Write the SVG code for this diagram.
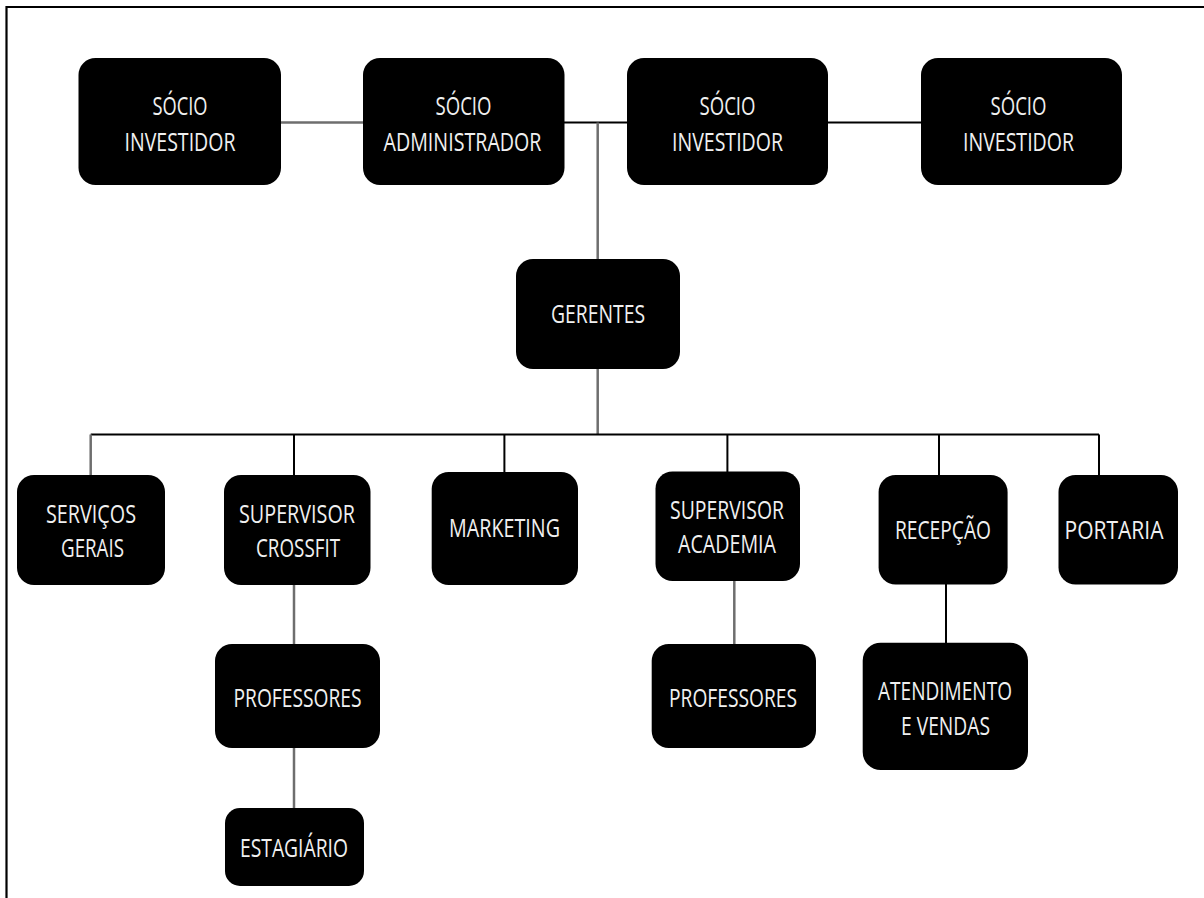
<svg xmlns="http://www.w3.org/2000/svg" width="1204" height="898" viewBox="0 0 1204 898">
  <style>
    .box { fill: #000; }
    .lbl { fill: #f0f0f0; font-family: "Open Sans", "Liberation Sans", sans-serif; font-size: 25px; text-anchor: middle; }
    .ln { fill: none; stroke: #000; stroke-width: 2; }
    .lg { fill: none; stroke: #6e6e6e; stroke-width: 2.5; }
    .frame { fill: none; stroke: #000; stroke-width: 2.2; }
  </style>
  <rect x="0" y="0" width="1204" height="898" fill="#fff"/>

  <!-- outer frame -->
  <path class="frame" d="M6.5,898 V7 H1204"/>

  <!-- connectors -->
  <g id="connectors">
    <line class="lg" x1="279" y1="122.5" x2="365" y2="122.5"/>
    <line class="ln" x1="564" y1="122.5" x2="628" y2="122.5"/>
    <line class="ln" x1="827" y1="122.5" x2="922" y2="122.5"/>
    <line class="lg" x1="597.7" y1="122.5" x2="597.7" y2="260"/>
    <line class="lg" x1="597.7" y1="368" x2="597.7" y2="434.5"/>
    <line class="ln" x1="90.7" y1="434.5" x2="1099" y2="434.5"/>
    <line class="lg" x1="90.7" y1="434.5" x2="90.7" y2="476"/>
    <line class="ln" x1="294" y1="434.5" x2="294" y2="476"/>
    <line class="ln" x1="504.4" y1="434.5" x2="504.4" y2="473"/>
    <line class="ln" x1="727.4" y1="434.5" x2="727.4" y2="472"/>
    <line class="ln" x1="939" y1="434.5" x2="939" y2="476"/>
    <line class="ln" x1="1099" y1="434.5" x2="1099" y2="476"/>
    <line class="lg" x1="294" y1="584" x2="294" y2="645"/>
    <line class="lg" x1="294" y1="747" x2="294" y2="809"/>
    <line class="lg" x1="734.3" y1="580" x2="734.3" y2="645"/>
    <line class="ln" x1="946" y1="583" x2="946" y2="644"/>
  </g>

  <!-- partners -->
  <g id="socio-investidor-1">
    <rect class="box" x="78.5" y="58" width="202.5" height="127" rx="17"/>
    <text class="lbl" x="180" y="115" textLength="55" lengthAdjust="spacingAndGlyphs">SÓCIO</text>
    <text class="lbl" x="180" y="151" textLength="111" lengthAdjust="spacingAndGlyphs">INVESTIDOR</text>
  </g>
  <g id="socio-administrador">
    <rect class="box" x="363" y="58" width="201.5" height="127" rx="17"/>
    <text class="lbl" x="463.5" y="115" textLength="56" lengthAdjust="spacingAndGlyphs">SÓCIO</text>
    <text class="lbl" x="462.5" y="151" textLength="158" lengthAdjust="spacingAndGlyphs">ADMINISTRADOR</text>
  </g>
  <g id="socio-investidor-2">
    <rect class="box" x="627" y="58" width="201" height="127" rx="17"/>
    <text class="lbl" x="727.5" y="115" textLength="56" lengthAdjust="spacingAndGlyphs">SÓCIO</text>
    <text class="lbl" x="727.5" y="151" textLength="111" lengthAdjust="spacingAndGlyphs">INVESTIDOR</text>
  </g>
  <g id="socio-investidor-3">
    <rect class="box" x="921" y="58" width="201" height="127" rx="17"/>
    <text class="lbl" x="1018.5" y="115" textLength="56" lengthAdjust="spacingAndGlyphs">SÓCIO</text>
    <text class="lbl" x="1018.5" y="151" textLength="111" lengthAdjust="spacingAndGlyphs">INVESTIDOR</text>
  </g>

  <!-- management -->
  <g id="gerentes">
    <rect class="box" x="516" y="259" width="164" height="110" rx="17"/>
    <text class="lbl" x="598" y="323" textLength="94" lengthAdjust="spacingAndGlyphs">GERENTES</text>
  </g>

  <!-- departments -->
  <g id="servicos-gerais">
    <rect class="box" x="17" y="475" width="148" height="110" rx="17"/>
    <text class="lbl" x="91" y="523" textLength="90" lengthAdjust="spacingAndGlyphs">SERVIÇOS</text>
    <text class="lbl" x="92.5" y="557" textLength="63" lengthAdjust="spacingAndGlyphs">GERAIS</text>
  </g>
  <g id="supervisor-crossfit">
    <rect class="box" x="224" y="475" width="146.5" height="110" rx="17"/>
    <text class="lbl" x="297" y="523" textLength="116" lengthAdjust="spacingAndGlyphs">SUPERVISOR</text>
    <text class="lbl" x="298" y="557" textLength="84" lengthAdjust="spacingAndGlyphs">CROSSFIT</text>
  </g>
  <g id="marketing">
    <rect class="box" x="431.7" y="472" width="146.3" height="113" rx="17"/>
    <text class="lbl" x="504.5" y="537" textLength="111" lengthAdjust="spacingAndGlyphs">MARKETING</text>
  </g>
  <g id="supervisor-academia">
    <rect class="box" x="655.5" y="471.5" width="144.5" height="109.5" rx="17"/>
    <text class="lbl" x="727" y="519" textLength="114" lengthAdjust="spacingAndGlyphs">SUPERVISOR</text>
    <text class="lbl" x="727" y="553" textLength="98" lengthAdjust="spacingAndGlyphs">ACADEMIA</text>
  </g>
  <g id="recepcao">
    <rect class="box" x="878.6" y="475" width="129" height="109.5" rx="17"/>
    <text class="lbl" x="943" y="539" textLength="96" lengthAdjust="spacingAndGlyphs">RECEPÇÃO</text>
  </g>
  <g id="portaria">
    <rect class="box" x="1058.5" y="475" width="119.5" height="109.5" rx="17"/>
    <text class="lbl" x="1114" y="539" textLength="99" lengthAdjust="spacingAndGlyphs">PORTARIA</text>
  </g>

  <!-- staff -->
  <g id="professores-crossfit">
    <rect class="box" x="215" y="644" width="165" height="104" rx="17"/>
    <text class="lbl" x="297.5" y="707" textLength="128" lengthAdjust="spacingAndGlyphs">PROFESSORES</text>
  </g>
  <g id="estagiario">
    <rect class="box" x="225" y="808" width="139" height="78" rx="15"/>
    <text class="lbl" x="294" y="857" textLength="108" lengthAdjust="spacingAndGlyphs">ESTAGIÁRIO</text>
  </g>
  <g id="professores-academia">
    <rect class="box" x="651.7" y="644" width="164.3" height="104" rx="17"/>
    <text class="lbl" x="733" y="707" textLength="128" lengthAdjust="spacingAndGlyphs">PROFESSORES</text>
  </g>
  <g id="atendimento-vendas">
    <rect class="box" x="862.7" y="642.7" width="165.3" height="127.3" rx="18"/>
    <text class="lbl" x="945" y="700" textLength="134" lengthAdjust="spacingAndGlyphs">ATENDIMENTO</text>
    <text class="lbl" x="945.5" y="735" textLength="89" lengthAdjust="spacingAndGlyphs">E VENDAS</text>
  </g>
</svg>
